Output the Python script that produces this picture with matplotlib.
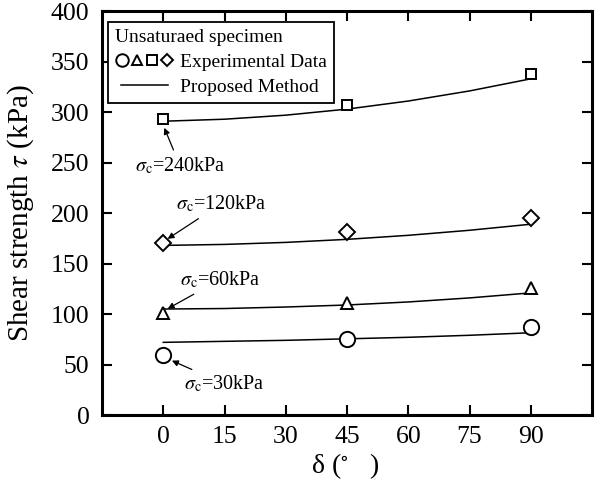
import numpy as np
import matplotlib
matplotlib.use("Agg")
import matplotlib.pyplot as plt
from matplotlib.lines import Line2D
from matplotlib.legend_handler import HandlerTuple, HandlerLine2D

plt.rcParams['font.family'] = ['Liberation Serif', 'DejaVu Serif']
plt.rcParams['mathtext.fontset'] = 'stix'

# measured shear strength (kPa) at each inclination angle
delta = [0, 45, 90]
tau_30 = [59, 75, 87]
tau_60 = [101, 111, 126]
tau_120 = [170, 181, 195]
tau_240 = [293, 307, 338]

# proposed method curves
delta_fit = [0, 15, 30, 45, 60, 75, 90]
fit_30 = [72, 73, 74, 75.5, 77, 79, 81.5]
fit_60 = [105, 105.5, 107, 109, 112, 116, 121]
fit_120 = [168, 169, 171, 174, 178, 183, 189]
fit_240 = [291, 293, 297, 303, 311, 321, 333]

fig = plt.figure(figsize=(6, 4.86), dpi=100)
ax = fig.add_axes([0.17, 0.146, 0.8167, 0.831])

mk = dict(mfc='white', mec='black', mew=1.4, ls='none', zorder=3)
for f in [fit_30, fit_60, fit_120, fit_240]:
    ax.plot(delta_fit, f, color='black', lw=1.1, zorder=2)
ax.plot(delta, tau_30, marker='o', ms=11, **mk)
ax.plot(delta, tau_60, marker='^', ms=9, **mk)
ax.plot(delta, tau_120, marker='D', ms=8, **mk)
ax.plot(delta, tau_240, marker='s', ms=7.5, **mk)

ax.set_xlim(-15, 105)
ax.set_ylim(0, 400)
ax.set_xticks(range(0, 91, 15))
ax.set_yticks(range(0, 401, 50))
ax.tick_params(direction='in', top=True, right=True, length=7, width=1.5,
               labelsize=18.5)
ax.tick_params(axis='x', pad=8)
ax.tick_params(axis='y', pad=9)
for s in ax.spines.values():
    s.set_linewidth(2.2)

ax.set_ylabel(r'Shear strength $\tau$ (kPa)', fontsize=21)
ax.set_xlabel(r'δ ($^{\circ}$   )', fontsize=20)
ax.yaxis.set_label_coords(-0.135, 0.5)
ax.xaxis.set_label_coords(0.496, -0.09)

arw = dict(arrowstyle='-|>', color='black', lw=0.9, mutation_scale=9)


def lab(p):
    return r'$\sigma_{\rm c}$=' + str(p) + 'kPa'


ax.annotate(lab(240), xy=(0, tau_240[0] - 6), xytext=(-7, 247),
            fontsize=14.5, va='center', arrowprops=arw)
ax.annotate(lab(120), xy=(0.5, tau_120[0] + 3), xytext=(3, 209),
            fontsize=14.5, va='center', arrowprops=arw)
ax.annotate(lab(60), xy=(0.5, tau_60[0] + 3), xytext=(4, 134),
            fontsize=14.5, va='center', arrowprops=arw)
ax.annotate(lab(30), xy=(1.5, tau_30[0] - 4), xytext=(5, 31),
            fontsize=14.5, va='center', arrowprops=arw)

h_exp = tuple(Line2D([], [], marker=m, ms=s, **mk)
              for m, s in [('o', 9), ('^', 7.5), ('s', 6.5), ('D', 6.5)])
h_fit = Line2D([], [], color='black', lw=1.1)
leg = ax.legend([h_exp, h_fit], ['Experimental Data', 'Proposed Method'],
                handler_map={tuple: HandlerTuple(ndivide=None, pad=0),
                             h_fit: HandlerLine2D(numpoints=2, marker_pad=0.35)},
                title='Unsaturaed specimen', alignment='left',
                loc='upper left', bbox_to_anchor=(0.012, 0.973),
                fontsize=14, title_fontsize=14, handlelength=3.1,
                handletextpad=0.28, borderpad=0.35, labelspacing=0.38,
                fancybox=False, edgecolor='black', framealpha=1,
                borderaxespad=0)
leg.get_frame().set_linewidth(1.3)

fig.savefig('out.png', dpi=100)
